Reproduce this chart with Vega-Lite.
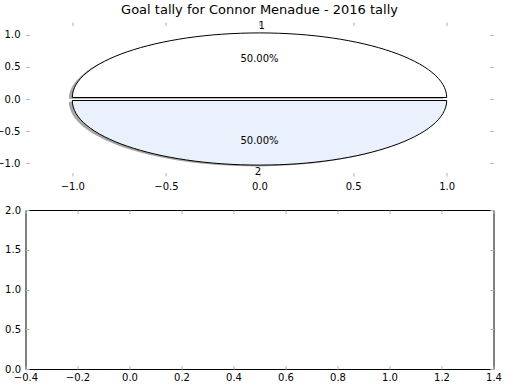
{
  "$schema": "https://vega.github.io/schema/vega-lite/v6.json",
  "padding": {"left": -4.5, "top": 4, "right": 0, "bottom": 0},
  "background": "white",
  "bounds": "flush",
  "spacing": 34,
  "config": {
    "font": "DejaVu Sans",
    "axis": {
      "labelFont": "DejaVu Sans",
      "labelFontSize": 10,
      "labelColor": "#000000",
      "tickColor": "#b0b0b0",
      "tickWidth": 1,
      "tickSize": -3.5,
      "domain": false,
      "grid": false,
      "title": null,
      "labelFlush": false,
      "labelOverlap": false,
      "minExtent": 0,
      "maxExtent": 0
    }
  },
  "datasets": {
    "slices": [
      {"slice": "1", "tally": 1, "pct": "50.00%", "x": 0, "y": 0, "labelX": 0.012, "labelY": 1.133, "pctY": 0.63},
      {"slice": "2", "tally": 1, "pct": "50.00%", "x": 0, "y": 0, "labelX": -0.009, "labelY": -1.143, "pctY": -0.65}
    ],
    "empty": []
  },
  "vconcat": [
    {
      "width": 468,
      "height": 154,
      "title": {
        "text": "Goal tally for Connor Menadue - 2016 tally",
        "fontSize": 13,
        "fontWeight": "normal",
        "color": "#000000",
        "anchor": "middle",
        "frame": "group",
        "baseline": "alphabetic",
        "offset": -6
      },
      "view": {"stroke": null},
      "data": {"name": "slices"},
      "resolve": {"axis": {"x": "independent", "y": "independent"}},
      "layer": [
        {
          "mark": {"type": "point", "filled": true, "size": 140175, "xOffset": -3.5, "yOffset": 1.3, "color": "#a6a6a6", "opacity": 1, "strokeWidth": 0},
          "encoding": {
            "x": {"field": "x", "type": "quantitative", "scale": {"domain": [-1.25, 1.25], "nice": false, "zero": false},
                  "axis": {"orient": "bottom", "values": [-1, -0.5, 0, 0.5, 1], "format": ".1f", "labelPadding": 9}},
            "y": {"field": "y", "type": "quantitative", "scale": {"domain": [-1.2, 1.2], "nice": false, "zero": false},
                  "axis": {"orient": "left", "values": [-1, -0.5, 0, 0.5, 1], "format": ".1f", "labelPadding": 9}},
            "shape": {"field": "slice", "type": "nominal", "legend": null,
                      "scale": {"domain": ["1", "2"], "range": ["M-1,-0.008 A1,0.345 0 0 1 1,-0.008 Z", "M-1,0.008 A1,0.345 0 0 0 1,0.008 Z"]}}
          }
        },
        {
          "mark": {"type": "point", "filled": true, "size": 140175, "stroke": "#000000", "strokeWidth": 1, "opacity": 1},
          "encoding": {
            "x": {"field": "x", "type": "quantitative", "axis": {"orient": "top", "values": [-1, -0.5, 0, 0.5, 1], "labels": false}},
            "y": {"field": "y", "type": "quantitative", "axis": {"orient": "right", "values": [-1, -0.5, 0, 0.5, 1], "labels": false}},
            "shape": {"field": "slice", "type": "nominal", "legend": null},
            "fill": {"field": "slice", "type": "nominal", "legend": null,
                     "scale": {"domain": ["1", "2"], "range": ["#ffffff", "#eaf1fc"]}}
          }
        },
        {
          "mark": {"type": "text", "fontSize": 10, "color": "#000000", "align": "center", "baseline": "middle"},
          "encoding": {
            "x": {"field": "labelX", "type": "quantitative", "axis": null},
            "y": {"field": "labelY", "type": "quantitative", "axis": null},
            "text": {"field": "slice"}
          }
        },
        {
          "mark": {"type": "text", "fontSize": 10, "color": "#000000", "align": "center", "baseline": "middle"},
          "encoding": {
            "x": {"field": "x", "type": "quantitative", "axis": null},
            "y": {"field": "pctY", "type": "quantitative", "axis": null},
            "text": {"field": "pct"}
          }
        }
      ]
    },
    {
      "width": 468,
      "height": 159,
      "view": {"stroke": "#000000", "strokeWidth": 1},
      "data": {"name": "empty"},
      "resolve": {"axis": {"x": "independent", "y": "independent"}},
      "layer": [
        {
          "mark": {"type": "point"},
          "encoding": {
            "x": {"field": "x", "type": "quantitative", "scale": {"domain": [-0.4, 1.4], "nice": false, "zero": false},
                  "axis": {"orient": "bottom", "values": [-0.4, -0.2, 0, 0.2, 0.4, 0.6, 0.8, 1.0, 1.2, 1.4], "format": ".1f", "labelPadding": 6.5}},
            "y": {"field": "y", "type": "quantitative", "scale": {"domain": [0, 2], "nice": false, "zero": false},
                  "axis": {"orient": "left", "values": [0, 0.5, 1, 1.5, 2], "format": ".1f", "labelPadding": 8.5}}
          }
        },
        {
          "mark": {"type": "point"},
          "encoding": {
            "x": {"field": "x", "type": "quantitative", "axis": {"orient": "top", "values": [-0.4, -0.2, 0, 0.2, 0.4, 0.6, 0.8, 1.0, 1.2, 1.4], "labels": false}},
            "y": {"field": "y", "type": "quantitative", "axis": {"orient": "right", "values": [0, 0.5, 1, 1.5, 2], "labels": false}}
          }
        }
      ]
    }
  ]
}
